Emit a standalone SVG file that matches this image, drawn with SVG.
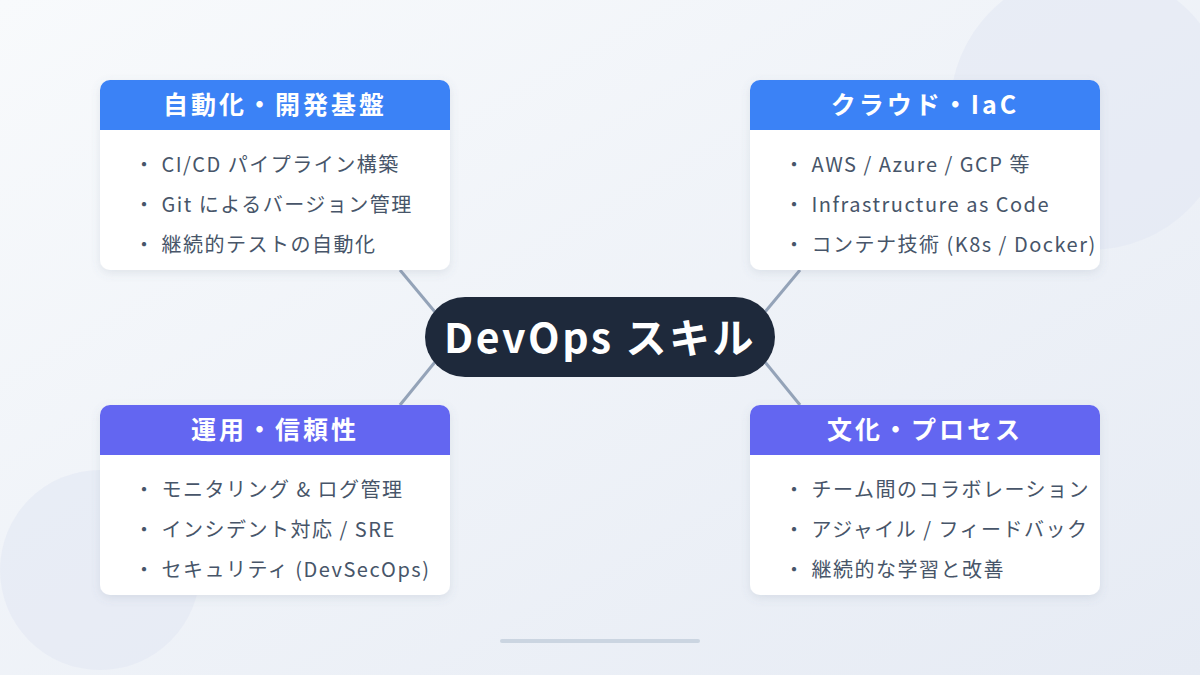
<svg xmlns="http://www.w3.org/2000/svg" width="1200" height="675" viewBox="0 0 1200 675">
<defs>
<linearGradient id="bg" x1="0" y1="0" x2="1" y2="1"><stop offset="0" stop-color="#f8fafc"/><stop offset="1" stop-color="#e6ebf4"/></linearGradient>
<filter id="sh" x="-10%" y="-10%" width="120%" height="130%"><feDropShadow dx="0" dy="3" stdDeviation="5" flood-color="#64748b" flood-opacity="0.15"/></filter>
<clipPath id="c1"><rect x="0" y="0" width="350" height="190" rx="10"/></clipPath>
</defs>
<style>
text{font-family:"Noto Sans CJK JP","Noto Sans",sans-serif}
.hd{fill:#fff;font-size:25px;font-weight:700;text-anchor:middle;letter-spacing:3px}
.it{fill:#475569;font-size:20px;letter-spacing:1.5px}
.ln{stroke:#94a3b8;stroke-width:3}
</style>
<rect width="1200" height="675" fill="url(#bg)"/>
<circle cx="1090" cy="110" r="140" fill="#e2e8f3" opacity="0.6"/>
<circle cx="100" cy="570" r="100" fill="#e2e8f3" opacity="0.6"/>
<g id="connectors">
<line class="ln" x1="400" y1="270" x2="435" y2="312"/>
<line class="ln" x1="800" y1="270" x2="765" y2="312"/>
<line class="ln" x1="400" y1="405" x2="435" y2="362"/>
<line class="ln" x1="800" y1="405" x2="765" y2="362"/>
</g>
<g id="center">
<rect x="425" y="297" width="350" height="80" rx="40" fill="#1e293b"/>
<text x="600" y="353" fill="#fff" font-size="41" font-weight="700" text-anchor="middle" letter-spacing="2.5">DevOps スキル</text>
</g>
<g id="card1" transform="translate(100,80)">
<rect width="350" height="190" rx="10" fill="#fff" filter="url(#sh)"/>
<g clip-path="url(#c1)"><rect width="350" height="50" fill="#3b82f6"/></g>
<text class="hd" x="175" y="34">自動化・開発基盤</text>
<text class="it" x="34" y="92">・ CI/CD パイプライン構築</text>
<text class="it" x="34" y="132">・ Git によるバージョン管理</text>
<text class="it" x="34" y="172">・ 継続的テストの自動化</text>
</g>
<g id="card2" transform="translate(750,80)">
<rect width="350" height="190" rx="10" fill="#fff" filter="url(#sh)"/>
<g clip-path="url(#c1)"><rect width="350" height="50" fill="#3b82f6"/></g>
<text class="hd" x="175" y="34">クラウド・IaC</text>
<text class="it" x="34" y="92">・ AWS / Azure / GCP 等</text>
<text class="it" x="34" y="132">・ Infrastructure as Code</text>
<text class="it" x="34" y="172">・ コンテナ技術 (K8s / Docker)</text>
</g>
<g id="card3" transform="translate(100,405)">
<rect width="350" height="190" rx="10" fill="#fff" filter="url(#sh)"/>
<g clip-path="url(#c1)"><rect width="350" height="50" fill="#6366f1"/></g>
<text class="hd" x="175" y="34">運用・信頼性</text>
<text class="it" x="34" y="92">・ モニタリング &amp; ログ管理</text>
<text class="it" x="34" y="132">・ インシデント対応 / SRE</text>
<text class="it" x="34" y="172">・ セキュリティ (DevSecOps)</text>
</g>
<g id="card4" transform="translate(750,405)">
<rect width="350" height="190" rx="10" fill="#fff" filter="url(#sh)"/>
<g clip-path="url(#c1)"><rect width="350" height="50" fill="#6366f1"/></g>
<text class="hd" x="175" y="34">文化・プロセス</text>
<text class="it" x="34" y="92">・ チーム間のコラボレーション</text>
<text class="it" x="34" y="132">・ アジャイル / フィードバック</text>
<text class="it" x="34" y="172">・ 継続的な学習と改善</text>
</g>
<rect x="500" y="639" width="200" height="4" rx="2" fill="#cbd5e1"/>
</svg>
